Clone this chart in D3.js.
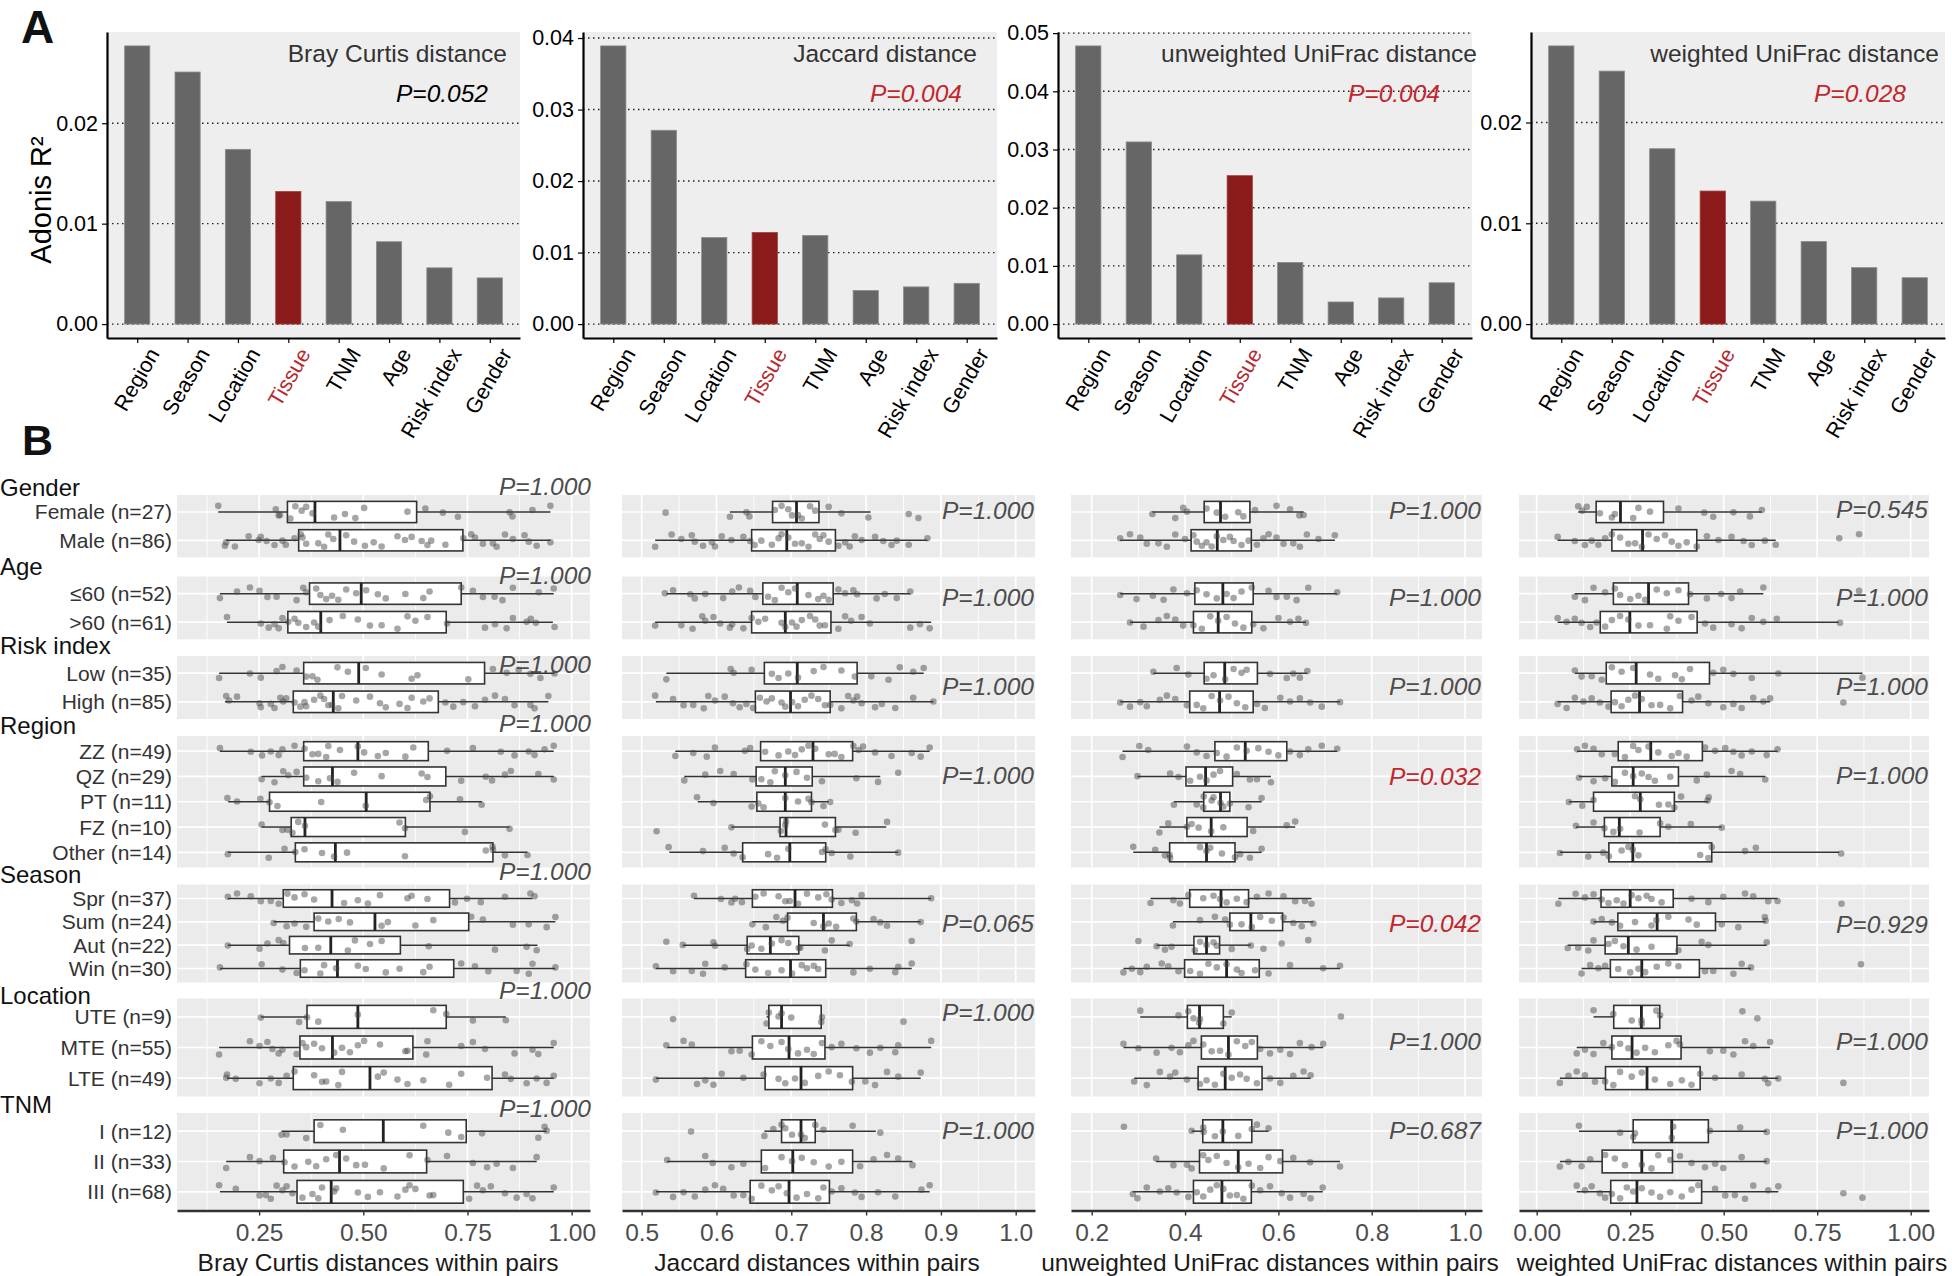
<!DOCTYPE html>
<html><head><meta charset="utf-8">
<script src="https://cdn.jsdelivr.net/npm/d3@7"></script>
<style>
body{margin:0;background:#fff;}
svg{display:block;font-family:"Liberation Sans",Arial,Helvetica,sans-serif;}
</style>
</head><body>
<svg id="chart" width="1952" height="1276"></svg>
<script>
// ================= DATA =================
// Panel A: Adonis R2 per factor
const barCategories = ["Region","Season","Location","Tissue","TNM","Age","Risk index","Gender"];
const highlightCategory = "Tissue";
const adonisTitles = ["Bray Curtis distance","Jaccard distance","unweighted UniFrac distance","weighted UniFrac distance"];
const adonisBray       = [0.0277,0.0251,0.0174,0.0132,0.0122,0.0082,0.0056,0.0046];
const adonisJaccard    = [0.0389,0.0271,0.0121,0.0128,0.0124,0.0047,0.0052,0.0057];
const adonisUnweighted = [0.0478,0.0313,0.0119,0.0255,0.0106,0.0038,0.0045,0.0071];
const adonisWeighted   = [0.0276,0.0251,0.0174,0.0132,0.0122,0.0082,0.0056,0.0046];
const adonisP = [0.052,0.004,0.004,0.028];
const adonisTicks = [[0,0.01,0.02],[0,0.01,0.02,0.03,0.04],[0,0.01,0.02,0.03,0.04,0.05],[0,0.01,0.02]];

// Panel B: distances within pairs
const groupNames = ["Gender","Age","Risk index","Region","Season","Location","TNM"];
const groupLevels = [
  ["Female (n=27)","Male (n=86)"],
  ["\u226460 (n=52)",">60 (n=61)"],
  ["Low (n=35)","High (n=85)"],
  ["ZZ (n=49)","QZ (n=29)","PT (n=11)","FZ (n=10)","Other (n=14)"],
  ["Spr (n=37)","Sum (n=24)","Aut (n=22)","Win (n=30)"],
  ["UTE (n=9)","MTE (n=55)","LTE (n=49)"],
  ["I (n=12)","II (n=33)","III (n=68)"]
];
const distanceTitles = ["Bray Curtis distances within pairs","Jaccard distances within pairs","unweighted UniFrac distances within pairs","weighted UniFrac distances within pairs"];
const pBray       = [1,1,1,1,1,1,1];
const pJaccard    = [1,1,1,1,0.065,1,1];
const pUnweighted = [1,1,1,0.032,0.042,1,0.687];
const pWeighted   = [0.545,1,1,1,0.929,1,1];
const xTicksBray = [0.25,0.5,0.75,1.0];
const xTicksJaccard = [0.5,0.6,0.7,0.8,0.9,1.0];
const xTicksUnweighted = [0.2,0.4,0.6,0.8,1.0];
const xTicksWeighted = [0,0.25,0.5,0.75,1.0];

// box stats [lower whisker, Q1, median, Q3, upper whisker], rows top->bottom
const boxBray = [
[0.152,0.318,0.384,0.628,0.949],[0.171,0.345,0.444,0.739,0.949],
[0.156,0.371,0.495,0.735,0.957],[0.173,0.319,0.398,0.699,0.955],
[0.154,0.357,0.489,0.791,0.959],[0.168,0.332,0.428,0.680,0.944],
[0.156,0.357,0.487,0.656,0.957],[0.256,0.357,0.426,0.698,0.957],[0.176,0.275,0.507,0.660,0.785],[0.256,0.327,0.360,0.601,0.851],[0.175,0.337,0.433,0.811,0.894],
[0.175,0.308,0.425,0.707,0.906],[0.285,0.382,0.528,0.753,0.961],[0.175,0.323,0.422,0.589,0.918],[0.156,0.349,0.438,0.717,0.961],
[0.254,0.365,0.487,0.699,0.842],[0.154,0.348,0.426,0.619,0.957],[0.173,0.332,0.516,0.809,0.957],
[0.304,0.382,0.548,0.747,0.940],[0.171,0.309,0.443,0.652,0.916],[0.156,0.341,0.423,0.740,0.957]];
const boxJaccard = [
[0.618,0.675,0.707,0.737,0.806],[0.518,0.647,0.694,0.759,0.882],
[0.533,0.662,0.708,0.756,0.859],[0.518,0.647,0.692,0.753,0.887],
[0.533,0.664,0.708,0.788,0.877],[0.519,0.652,0.699,0.752,0.890],
[0.545,0.659,0.729,0.782,0.885],[0.557,0.653,0.692,0.728,0.819],[0.575,0.654,0.692,0.727,0.750],[0.620,0.685,0.693,0.759,0.827],[0.537,0.635,0.698,0.746,0.843],
[0.570,0.648,0.705,0.755,0.887],[0.648,0.695,0.743,0.787,0.873],[0.555,0.641,0.672,0.710,0.778],[0.519,0.639,0.699,0.746,0.861],
[0.667,0.670,0.687,0.740,0.741],[0.534,0.648,0.697,0.745,0.887],[0.519,0.665,0.713,0.782,0.873],
[0.664,0.687,0.713,0.732,0.813],[0.534,0.660,0.702,0.782,0.862],[0.519,0.645,0.697,0.751,0.885]];
const boxUnweighted = [
[0.330,0.441,0.476,0.539,0.654],[0.261,0.413,0.469,0.542,0.721],
[0.261,0.421,0.481,0.546,0.726],[0.282,0.418,0.471,0.543,0.659],
[0.332,0.441,0.485,0.555,0.662],[0.261,0.410,0.474,0.546,0.732],
[0.266,0.464,0.529,0.618,0.726],[0.298,0.402,0.444,0.502,0.584],[0.376,0.440,0.476,0.496,0.564],[0.345,0.404,0.456,0.533,0.636],[0.289,0.367,0.446,0.507,0.564],
[0.326,0.410,0.477,0.536,0.671],[0.374,0.496,0.541,0.609,0.675],[0.339,0.419,0.446,0.474,0.541],[0.268,0.399,0.489,0.559,0.732],
[0.304,0.405,0.431,0.482,0.500],[0.268,0.435,0.493,0.555,0.696],[0.291,0.428,0.486,0.565,0.669],
[0.414,0.438,0.481,0.543,0.579],[0.338,0.431,0.514,0.609,0.732],[0.288,0.418,0.479,0.542,0.695]];
const boxWeighted = [
[0.111,0.159,0.224,0.339,0.602],[0.056,0.201,0.283,0.428,0.639],
[0.102,0.205,0.299,0.406,0.606],[0.056,0.170,0.249,0.429,0.807],
[0.102,0.186,0.266,0.462,0.871],[0.056,0.199,0.275,0.390,0.624],
[0.108,0.218,0.305,0.443,0.644],[0.113,0.201,0.258,0.379,0.611],[0.086,0.152,0.277,0.368,0.459],[0.105,0.181,0.221,0.330,0.495],[0.062,0.193,0.257,0.468,0.809],
[0.058,0.172,0.250,0.365,0.644],[0.152,0.217,0.322,0.478,0.612],[0.083,0.183,0.245,0.375,0.615],[0.120,0.197,0.281,0.435,0.573],
[0.152,0.206,0.280,0.329,0.334],[0.107,0.201,0.255,0.386,0.624],[0.062,0.184,0.295,0.437,0.646],
[0.113,0.258,0.361,0.459,0.615],[0.062,0.175,0.281,0.363,0.615],[0.107,0.198,0.268,0.441,0.646]];

// individual pair distances, rows top->bottom
const pointsBray = [
[0.152,0.29,0.297,0.3,0.325,0.337,0.352,0.363,0.378,0.43,0.456,0.481,0.502,0.606,0.649,0.691,0.727,0.851,0.858,0.906,0.949],
[0.168,0.171,0.192,0.225,0.249,0.254,0.268,0.287,0.306,0.314,0.335,0.35,0.354,0.363,0.392,0.406,0.416,0.428,0.459,0.478,0.504,0.525,0.544,0.582,0.6,0.616,0.64,0.654,0.663,0.697,0.74,0.759,0.768,0.787,0.811,0.82,0.84,0.859,0.887,0.897,0.916,0.949],
[0.156,0.197,0.228,0.251,0.27,0.292,0.34,0.356,0.363,0.387,0.397,0.411,0.425,0.44,0.459,0.483,0.507,0.535,0.554,0.601,0.644,0.659,0.735,0.763,0.787,0.815,0.834,0.859,0.921,0.957],
[0.173,0.254,0.273,0.287,0.297,0.306,0.32,0.335,0.344,0.363,0.382,0.392,0.419,0.451,0.487,0.516,0.544,0.582,0.606,0.625,0.654,0.701,0.792,0.816,0.844,0.859,0.892,0.902,0.914,0.959],
[0.154,0.228,0.254,0.292,0.306,0.34,0.363,0.378,0.39,0.438,0.463,0.506,0.544,0.616,0.63,0.752,0.811,0.844,0.873,0.901,0.925,0.959],
[0.171,0.178,0.197,0.251,0.254,0.278,0.287,0.301,0.308,0.315,0.335,0.349,0.359,0.363,0.382,0.397,0.406,0.416,0.425,0.44,0.449,0.483,0.516,0.54,0.554,0.587,0.606,0.616,0.644,0.659,0.697,0.716,0.74,0.768,0.792,0.816,0.84,0.863,0.901,0.911,0.944],
[0.156,0.23,0.257,0.278,0.297,0.306,0.335,0.359,0.378,0.392,0.411,0.416,0.444,0.487,0.502,0.535,0.554,0.601,0.62,0.701,0.763,0.83,0.863,0.897,0.911,0.935,0.957],
[0.256,0.287,0.308,0.32,0.34,0.363,0.392,0.42,0.438,0.478,0.544,0.64,0.654,0.735,0.794,0.809,0.84,0.854,0.92,0.957],
[0.174,0.197,0.253,0.275,0.294,0.399,0.506,0.651,0.66,0.732,0.784],
[0.256,0.306,0.318,0.33,0.344,0.36,0.587,0.6,0.744,0.851],
[0.175,0.273,0.311,0.337,0.359,0.401,0.43,0.461,0.6,0.794,0.81,0.811,0.84,0.894],
[0.175,0.197,0.23,0.254,0.278,0.297,0.318,0.335,0.359,0.382,0.454,0.487,0.511,0.54,0.606,0.616,0.654,0.72,0.749,0.782,0.84,0.901,0.911],
[0.285,0.316,0.335,0.363,0.392,0.416,0.441,0.468,0.544,0.559,0.625,0.668,0.759,0.787,0.859,0.897,0.94,0.961],
[0.175,0.251,0.27,0.297,0.308,0.36,0.392,0.463,0.48,0.516,0.544,0.657,0.816,0.892,0.916],
[0.156,0.256,0.306,0.34,0.359,0.397,0.406,0.435,0.487,0.506,0.554,0.587,0.644,0.659,0.735,0.768,0.8,0.868,0.897,0.906,0.961],
[0.254,0.346,0.365,0.392,0.487,0.668,0.699,0.763,0.842],
[0.154,0.228,0.251,0.27,0.282,0.297,0.306,0.34,0.354,0.363,0.382,0.401,0.43,0.449,0.468,0.487,0.502,0.54,0.601,0.606,0.651,0.654,0.735,0.763,0.792,0.863,0.906,0.92,0.957],
[0.171,0.173,0.194,0.251,0.278,0.297,0.316,0.335,0.382,0.401,0.411,0.44,0.449,0.535,0.549,0.582,0.606,0.644,0.706,0.735,0.797,0.84,0.854,0.892,0.916,0.94,0.957],
[0.304,0.316,0.363,0.397,0.451,0.644,0.704,0.735,0.785,0.92,0.935,0.94],
[0.171,0.228,0.251,0.283,0.311,0.335,0.368,0.387,0.411,0.435,0.459,0.483,0.504,0.549,0.611,0.654,0.701,0.763,0.797,0.82,0.859,0.916],
[0.154,0.194,0.251,0.266,0.278,0.292,0.306,0.316,0.33,0.354,0.378,0.392,0.401,0.43,0.435,0.487,0.511,0.54,0.582,0.601,0.611,0.625,0.659,0.668,0.754,0.773,0.787,0.806,0.84,0.868,0.892,0.906,0.957]];
const pointsJaccard = [
[0.532,0.618,0.64,0.644,0.678,0.687,0.696,0.701,0.709,0.714,0.725,0.732,0.75,0.767,0.803,0.857,0.87],
[0.518,0.54,0.553,0.567,0.571,0.582,0.594,0.598,0.607,0.62,0.636,0.645,0.651,0.66,0.674,0.683,0.687,0.696,0.705,0.714,0.723,0.732,0.738,0.743,0.75,0.763,0.772,0.778,0.785,0.794,0.812,0.823,0.834,0.841,0.857,0.882],
[0.531,0.542,0.565,0.571,0.585,0.609,0.621,0.63,0.645,0.652,0.669,0.678,0.687,0.696,0.705,0.723,0.736,0.743,0.75,0.763,0.772,0.783,0.788,0.814,0.825,0.841,0.859],
[0.518,0.553,0.568,0.581,0.585,0.596,0.605,0.618,0.621,0.636,0.647,0.656,0.665,0.687,0.692,0.701,0.707,0.714,0.725,0.732,0.738,0.745,0.763,0.772,0.78,0.794,0.805,0.859,0.872,0.885],
[0.533,0.619,0.623,0.647,0.674,0.683,0.696,0.709,0.73,0.743,0.767,0.785,0.807,0.83,0.845,0.863,0.877],
[0.518,0.542,0.556,0.569,0.583,0.589,0.598,0.611,0.622,0.631,0.64,0.649,0.658,0.667,0.674,0.687,0.692,0.701,0.709,0.718,0.727,0.736,0.745,0.752,0.767,0.776,0.783,0.788,0.794,0.812,0.821,0.839,0.863,0.89],
[0.545,0.569,0.587,0.598,0.638,0.645,0.665,0.683,0.696,0.705,0.714,0.723,0.732,0.75,0.758,0.767,0.783,0.79,0.796,0.812,0.834,0.861,0.873,0.885],
[0.557,0.585,0.605,0.623,0.648,0.66,0.672,0.678,0.692,0.707,0.721,0.741,0.787,0.816,0.843],
[0.574,0.596,0.647,0.656,0.663,0.692,0.709,0.723,0.727,0.743,0.752],
[0.52,0.62,0.686,0.692,0.693,0.745,0.759,0.763,0.786,0.828],
[0.536,0.582,0.611,0.623,0.635,0.669,0.681,0.696,0.741,0.746,0.754,0.779,0.843],
[0.57,0.606,0.62,0.625,0.634,0.652,0.663,0.683,0.692,0.698,0.709,0.721,0.736,0.747,0.754,0.767,0.781,0.788,0.794,0.887],
[0.648,0.666,0.68,0.689,0.695,0.73,0.743,0.75,0.76,0.783,0.787,0.81,0.819,0.828,0.873],
[0.533,0.555,0.596,0.598,0.641,0.647,0.66,0.674,0.687,0.696,0.71,0.712,0.745,0.754,0.778,0.861],
[0.519,0.542,0.567,0.582,0.585,0.611,0.64,0.652,0.669,0.687,0.701,0.714,0.721,0.73,0.736,0.783,0.805,0.839,0.843,0.861],
[0.542,0.667,0.67,0.683,0.687,0.7,0.74,0.741,0.85],
[0.533,0.556,0.567,0.62,0.631,0.647,0.66,0.672,0.687,0.696,0.709,0.721,0.73,0.741,0.754,0.767,0.787,0.805,0.819,0.839,0.843,0.887],
[0.519,0.574,0.585,0.596,0.607,0.636,0.663,0.683,0.692,0.705,0.718,0.736,0.75,0.765,0.781,0.799,0.812,0.828,0.843,0.873],
[0.566,0.664,0.676,0.687,0.692,0.701,0.713,0.718,0.732,0.743,0.782,0.819],
[0.534,0.585,0.595,0.62,0.636,0.665,0.687,0.701,0.714,0.73,0.75,0.767,0.792,0.81,0.828,0.843,0.862],
[0.519,0.542,0.556,0.571,0.585,0.598,0.609,0.623,0.636,0.647,0.66,0.674,0.683,0.694,0.707,0.721,0.736,0.743,0.754,0.767,0.785,0.794,0.816,0.839,0.874,0.885]];
const pointsUnweighted = [
[0.33,0.379,0.396,0.404,0.446,0.468,0.486,0.514,0.525,0.55,0.596,0.625,0.645,0.654],
[0.261,0.282,0.304,0.318,0.343,0.361,0.379,0.4,0.418,0.425,0.436,0.446,0.457,0.468,0.482,0.496,0.504,0.521,0.536,0.554,0.568,0.579,0.596,0.611,0.632,0.646,0.661,0.686,0.721],
[0.261,0.296,0.331,0.354,0.375,0.404,0.425,0.446,0.468,0.489,0.504,0.521,0.543,0.579,0.596,0.618,0.639,0.664,0.726],
[0.282,0.311,0.343,0.361,0.379,0.396,0.418,0.436,0.454,0.471,0.489,0.507,0.525,0.546,0.568,0.6,0.625,0.643,0.659],
[0.332,0.382,0.407,0.446,0.461,0.486,0.504,0.521,0.532,0.582,0.618,0.632,0.646,0.662],
[0.261,0.282,0.304,0.318,0.346,0.361,0.379,0.404,0.425,0.439,0.457,0.475,0.493,0.511,0.529,0.554,0.571,0.604,0.625,0.646,0.668,0.693,0.732],
[0.266,0.302,0.321,0.404,0.425,0.446,0.468,0.489,0.511,0.532,0.557,0.579,0.6,0.625,0.646,0.664,0.693,0.726],
[0.298,0.368,0.386,0.411,0.432,0.446,0.461,0.475,0.511,0.539,0.554,0.584],
[0.376,0.425,0.439,0.44,0.457,0.461,0.476,0.482,0.496,0.536,0.564],
[0.345,0.364,0.404,0.414,0.429,0.456,0.482,0.546,0.618,0.636],
[0.289,0.336,0.357,0.367,0.368,0.432,0.446,0.454,0.479,0.507,0.518,0.539,0.564],
[0.326,0.375,0.389,0.407,0.439,0.461,0.475,0.489,0.511,0.532,0.554,0.579,0.611,0.636,0.657,0.671],
[0.374,0.432,0.464,0.486,0.496,0.521,0.543,0.561,0.586,0.611,0.632,0.65,0.675],
[0.3,0.339,0.357,0.371,0.421,0.432,0.446,0.461,0.468,0.5,0.541,0.568,0.607,0.664],
[0.268,0.286,0.304,0.318,0.35,0.364,0.386,0.411,0.432,0.45,0.468,0.489,0.511,0.521,0.55,0.579,0.625,0.696,0.732],
[0.304,0.386,0.407,0.418,0.43,0.432,0.482,0.5,0.734],
[0.268,0.3,0.339,0.371,0.389,0.407,0.418,0.439,0.457,0.475,0.493,0.511,0.529,0.543,0.561,0.582,0.604,0.625,0.646,0.671,0.696],
[0.291,0.318,0.346,0.368,0.379,0.404,0.432,0.446,0.464,0.482,0.5,0.518,0.532,0.554,0.582,0.604,0.632,0.654,0.669],
[0.269,0.414,0.439,0.44,0.464,0.481,0.514,0.543,0.554,0.579],
[0.338,0.375,0.404,0.414,0.439,0.45,0.468,0.489,0.514,0.536,0.561,0.579,0.604,0.632,0.668,0.732],
[0.288,0.298,0.318,0.346,0.364,0.382,0.407,0.425,0.439,0.454,0.468,0.482,0.496,0.511,0.525,0.543,0.561,0.582,0.607,0.625,0.654,0.669,0.695]];
const pointsWeighted = [
[0.111,0.122,0.134,0.169,0.201,0.209,0.258,0.272,0.303,0.379,0.448,0.472,0.526,0.57,0.602],
[0.056,0.102,0.129,0.147,0.165,0.183,0.201,0.223,0.245,0.263,0.281,0.299,0.321,0.343,0.361,0.379,0.401,0.428,0.455,0.486,0.521,0.553,0.575,0.61,0.639,0.809,0.862],
[0.102,0.129,0.152,0.183,0.209,0.223,0.25,0.272,0.29,0.321,0.348,0.379,0.41,0.455,0.493,0.521,0.544,0.606,0.862],
[0.056,0.08,0.102,0.12,0.143,0.16,0.183,0.201,0.223,0.245,0.272,0.303,0.348,0.357,0.379,0.414,0.45,0.472,0.521,0.548,0.575,0.606,0.642,0.811],
[0.102,0.12,0.147,0.174,0.201,0.227,0.258,0.303,0.325,0.37,0.388,0.41,0.472,0.499,0.526,0.575,0.646,0.871],
[0.056,0.08,0.102,0.125,0.147,0.169,0.192,0.209,0.227,0.245,0.263,0.281,0.307,0.33,0.357,0.383,0.414,0.432,0.459,0.499,0.526,0.548,0.579,0.606,0.624,0.82],
[0.108,0.129,0.152,0.174,0.209,0.236,0.258,0.272,0.299,0.325,0.361,0.379,0.401,0.45,0.477,0.504,0.526,0.548,0.575,0.615,0.644],
[0.113,0.152,0.183,0.209,0.236,0.258,0.281,0.299,0.316,0.357,0.428,0.455,0.521,0.544,0.611],
[0.086,0.122,0.152,0.263,0.277,0.327,0.352,0.368,0.386,0.457,0.46],
[0.105,0.152,0.181,0.205,0.223,0.275,0.33,0.352,0.412,0.495],
[0.062,0.138,0.178,0.193,0.227,0.245,0.257,0.272,0.437,0.459,0.468,0.557,0.586,0.814],
[0.058,0.104,0.129,0.152,0.174,0.192,0.214,0.232,0.254,0.272,0.294,0.307,0.334,0.414,0.459,0.499,0.557,0.579,0.619,0.644,0.815],
[0.152,0.174,0.201,0.223,0.263,0.307,0.32,0.352,0.406,0.428,0.495,0.539,0.61,0.612],
[0.083,0.111,0.138,0.152,0.192,0.209,0.232,0.267,0.307,0.379,0.441,0.459,0.615],
[0.12,0.143,0.165,0.183,0.218,0.25,0.272,0.29,0.321,0.352,0.379,0.45,0.472,0.526,0.548,0.573,0.867],
[0.152,0.205,0.254,0.28,0.281,0.32,0.33,0.55,0.59],
[0.107,0.129,0.152,0.178,0.201,0.223,0.245,0.267,0.29,0.316,0.352,0.374,0.383,0.463,0.499,0.526,0.557,0.579,0.624],
[0.062,0.085,0.107,0.129,0.156,0.183,0.205,0.223,0.254,0.281,0.316,0.357,0.388,0.414,0.437,0.477,0.548,0.61,0.619,0.646,0.82],
[0.113,0.223,0.258,0.263,0.361,0.365,0.463,0.544,0.615],
[0.062,0.085,0.12,0.143,0.183,0.209,0.236,0.281,0.307,0.325,0.357,0.383,0.414,0.45,0.477,0.499,0.548,0.615],
[0.107,0.129,0.147,0.169,0.183,0.201,0.223,0.241,0.258,0.281,0.307,0.33,0.357,0.388,0.414,0.432,0.477,0.504,0.53,0.557,0.579,0.619,0.646,0.82,0.871]];

// ================= LAYOUT / STYLE =================
const svg = d3.select("#chart");
const RED = "#c1272d";
const TXT = "#1a1a1a";

// ---- Panel A ----
const adonisSeries = [adonisBray, adonisJaccard, adonisUnweighted, adonisWeighted];
const barLayout = [
  {x0:107, x1:520, titleRight:507, pRight:488},
  {x0:583, x1:997, titleRight:977, pRight:962},
  {x0:1058,x1:1472,titleRight:1477,pRight:1440},
  {x0:1531,x1:1945,titleRight:1939,pRight:1906}];
const barTop = 32, barBottom = 338;

svg.append("text").attr("x",21).attr("y",43).text("A")
  .attr("font-size",46).attr("font-weight","bold").attr("fill","#111");
svg.append("text").attr("transform","translate(41,200) rotate(-90)")
  .attr("text-anchor","middle").attr("dominant-baseline","central")
  .attr("font-size",29).attr("fill","#000").text("Adonis R\u00B2");

adonisSeries.forEach((vals, i) => {
  const L = barLayout[i];
  const g = svg.append("g");
  const mx = d3.max(vals);
  const y = d3.scaleLinear().domain([-0.05*mx, 1.05*mx]).range([barBottom, barTop]);
  const x = d3.scalePoint().domain(barCategories).range([L.x0, L.x1]).padding(0.6);
  const bw = x.step()*0.5;
  g.append("rect").attr("x",L.x0).attr("y",barTop).attr("width",L.x1-L.x0)
    .attr("height",barBottom-barTop).attr("fill","#eeeeee");
  g.selectAll("line.grid").data(adonisTicks[i]).join("line").attr("class","grid")
    .attr("x1",L.x0).attr("x2",L.x1).attr("y1",d=>y(d)).attr("y2",d=>y(d))
    .attr("stroke","#222").attr("stroke-width",1.4).attr("stroke-dasharray","1.5,3.5");
  g.selectAll("rect.bar").data(vals).join("rect").attr("class","bar")
    .attr("x",(d,j)=>x(barCategories[j])-bw/2).attr("width",bw)
    .attr("y",d=>y(d)).attr("height",d=>y(0)-y(d))
    .attr("fill",(d,j)=>barCategories[j]===highlightCategory?"#8b1a1a":"#666666")
    .attr("stroke",(d,j)=>barCategories[j]===highlightCategory?"#a04040":"#8c8c8c")
    .attr("stroke-width",0.8);
  const ya = g.append("g").attr("transform",`translate(${L.x0},0)`)
    .call(d3.axisLeft(y).tickValues(adonisTicks[i]).tickFormat(d3.format(".2f")).tickSize(5).tickSizeOuter(0).tickPadding(4));
  ya.select(".domain").attr("stroke","#000").attr("stroke-width",2.2);
  ya.selectAll(".tick line").attr("stroke","#000").attr("stroke-width",1.2);
  ya.selectAll(".tick text").attr("font-size",21.5).attr("fill","#000").attr("font-family",null);
  const xa = g.append("g").attr("transform",`translate(0,${barBottom})`)
    .call(d3.axisBottom(x).tickSize(5).tickSizeOuter(0));
  xa.select(".domain").attr("stroke","#000").attr("stroke-width",2.2);
  xa.selectAll(".tick line").attr("stroke","#000").attr("stroke-width",1.2);
  xa.selectAll(".tick text").attr("font-size",21.5).attr("font-family",null)
    .attr("fill",d=>d===highlightCategory?"#b5292f":"#000")
    .attr("text-anchor","end").attr("x",0).attr("y",0).attr("dy","0.72em")
    .attr("transform","translate(9,8) rotate(-60)");
  g.append("text").attr("x",L.titleRight).attr("y",62).attr("text-anchor","end")
    .attr("font-size",24.5).attr("fill","#333").text(adonisTitles[i]);
  g.append("text").attr("x",L.pRight).attr("y",102).attr("text-anchor","end")
    .attr("font-size",24.5).attr("font-style","italic")
    .attr("fill",adonisP[i] < 0.05 ? RED : "#000")
    .text("P=" + adonisP[i].toFixed(3));
});

// ---- Panel B ----
svg.append("text").attr("x",22).attr("y",455).text("B")
  .attr("font-size",43).attr("font-weight","bold").attr("fill","#111");

const facetTop    = [495, 576.5, 656, 736, 884.5, 998.5, 1113];
const facetBottom = [557.3, 639.3, 719, 867.5, 982.5, 1096.5, 1210];
const distSeries = [
  {p:pBray, box:boxBray, pts:pointsBray, ticks:xTicksBray, fmt:".2f"},
  {p:pJaccard, box:boxJaccard, pts:pointsJaccard, ticks:xTicksJaccard, fmt:".1f"},
  {p:pUnweighted, box:boxUnweighted, pts:pointsUnweighted, ticks:xTicksUnweighted, fmt:".1f"},
  {p:pWeighted, box:boxWeighted, pts:pointsWeighted, ticks:xTicksWeighted, fmt:".2f"}];
const colLayout = [
  {x0:177, x1:590, domain:[0.053,1.044], titleX:378, pRight:591,
   pY:[486.7,575,664,723.3,871.7,990,1108.3]},
  {x0:622, x1:1035, domain:[0.4737,1.0258], titleX:817, pRight:1034,
   pY:[510.7,597,686.7,775,923,1012.7,1130]},
  {x0:1071, x1:1482, domain:[0.1556,1.0363], titleX:1270, pRight:1481,
   pY:[510,597.3,686.7,776,923.3,1041.7,1130.7]},
  {x0:1519, x1:1929, domain:[-0.0473,1.0489], titleX:1732, pRight:1928,
   pY:[509.3,597.3,686.7,775,924,1041.7,1130.7]}];
const headerY = [487,566.7,645,725.7,874,995,1104];
const JIT = [-0.9,0.45,-0.2,0.8,-0.6,0.1,0.65,-0.4,0.95,-0.75,0.3,-0.05,0.7,-0.3,0.5,-0.85,0.2,0.9,-0.5,0.05];

const rowStart = [];
groupLevels.reduce((acc, lv, f) => { rowStart[f] = acc; return acc + lv.length; }, 0);

groupNames.forEach((name, f) => {
  svg.append("text").attr("x",0).attr("y",headerY[f]).attr("dominant-baseline","central")
    .attr("font-size",24).attr("fill","#111").text(name);
  const yS = d3.scalePoint().domain(groupLevels[f]).range([facetTop[f], facetBottom[f]]).padding(0.6);
  groupLevels[f].forEach(lv => {
    svg.append("text").attr("x",172).attr("y",yS(lv)).attr("dominant-baseline","central")
      .attr("text-anchor","end").attr("font-size",21).attr("fill","#333").text(lv);
  });
});

distSeries.forEach((S, c) => {
  const C = colLayout[c];
  const g = svg.append("g");
  const x = d3.scaleLinear().domain(C.domain).range([C.x0, C.x1]);
  const step = S.ticks[1]-S.ticks[0];
  const minor = [];
  for (let k = -1; k < S.ticks.length; k++) {
    const v = (k < 0 ? S.ticks[0] - step/2 : S.ticks[k] + step/2);
    if (v > C.domain[0] && v < C.domain[1]) minor.push(v);
  }
  groupLevels.forEach((levels, f) => {
    const top = facetTop[f], bot = facetBottom[f];
    const yS = d3.scalePoint().domain(levels).range([top, bot]).padding(0.6);
    const st = yS.step();
    const fg = g.append("g");
    fg.append("rect").attr("x",C.x0).attr("y",top).attr("width",C.x1-C.x0).attr("height",bot-top).attr("fill","#ebebeb");
    fg.selectAll("line.mn").data(minor).join("line").attr("x1",d=>x(d)).attr("x2",d=>x(d))
      .attr("y1",top).attr("y2",bot).attr("stroke","#fff").attr("stroke-width",0.9);
    fg.selectAll("line.mj").data(S.ticks.filter(t=>t>C.domain[0]&&t<C.domain[1])).join("line")
      .attr("x1",d=>x(d)).attr("x2",d=>x(d)).attr("y1",top).attr("y2",bot)
      .attr("stroke","#fff").attr("stroke-width",1.7);
    fg.selectAll("line.rw").data(levels).join("line").attr("x1",C.x0).attr("x2",C.x1)
      .attr("y1",d=>yS(d)).attr("y2",d=>yS(d)).attr("stroke","#fff").attr("stroke-width",1.7);
    levels.forEach((lv, r) => {
      const idx = rowStart[f] + r;
      const b = S.box[idx];
      const yc = yS(lv), h = st*0.75;
      fg.append("line").attr("x1",x(b[0])).attr("x2",x(b[1])).attr("y1",yc).attr("y2",yc)
        .attr("stroke","#333").attr("stroke-width",1.5);
      fg.append("line").attr("x1",x(b[3])).attr("x2",x(b[4])).attr("y1",yc).attr("y2",yc)
        .attr("stroke","#333").attr("stroke-width",1.5);
      fg.append("rect").attr("x",x(b[1])).attr("y",yc-h/2).attr("width",x(b[3])-x(b[1]))
        .attr("height",h).attr("fill","#fff").attr("stroke","#333").attr("stroke-width",1.6);
      fg.append("line").attr("x1",x(b[2])).attr("x2",x(b[2])).attr("y1",yc-h/2).attr("y2",yc+h/2)
        .attr("stroke","#222").attr("stroke-width",2.8);
      fg.selectAll(null).data(S.pts[idx]).join("circle")
        .attr("cx",d=>x(d))
        .attr("cy",(d,k)=>yc + JIT[(k*7 + idx*3 + c*5) % JIT.length]*st*0.24)
        .attr("r",3.3).attr("fill","#444").attr("fill-opacity",0.48);
    });
    const pv = S.p[f];
    fg.append("text").attr("x",C.pRight).attr("y",C.pY[f]).attr("text-anchor","end")
      .attr("dominant-baseline","central").attr("font-size",24.5).attr("font-style","italic")
      .attr("fill", pv < 0.05 ? RED : "#4d4d4d").text("P=" + pv.toFixed(3));
  });
  const xa = g.append("g").attr("transform","translate(0,1210.5)")
    .call(d3.axisBottom(x).tickValues(S.ticks).tickFormat(d3.format(S.fmt)).tickSize(5).tickSizeOuter(0).tickPadding(8));
  xa.select(".domain").attr("stroke","#333").attr("stroke-width",2.4);
  xa.selectAll(".tick line").attr("stroke","#333").attr("stroke-width",1.4);
  xa.selectAll(".tick text").attr("font-size",24.5).attr("fill","#4d4d4d").attr("font-family",null);
  g.append("text").attr("x",C.titleX).attr("y",1262).attr("text-anchor","middle")
    .attr("dominant-baseline","central").attr("font-size",24.5).attr("fill",TXT).text(distanceTitles[c]);
});
</script>
</body></html>
